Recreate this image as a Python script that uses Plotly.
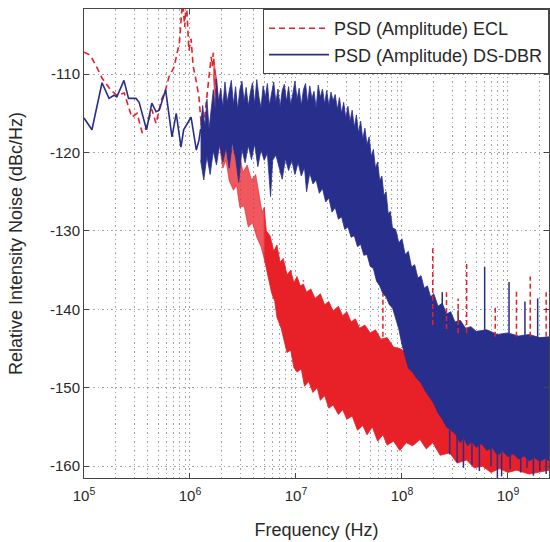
import plotly.graph_objects as go

# ---------------- data (frequency given as log10(Hz), level in dBc/Hz) ----------------
# ECL (red, dashed) - low-frequency trace
ecl_line_logf = [5.00, 5.06, 5.12, 5.17, 5.25, 5.31, 5.38, 5.45, 5.50, 5.55, 5.59, 5.64, 5.68, 5.73,
                 5.77, 5.80, 5.85, 5.90, 5.93, 5.95, 5.965, 5.99, 6.01, 6.03, 6.06, 6.085, 6.10,
                 6.12, 6.15, 6.18, 6.20, 6.21, 6.22, 6.24, 6.26]
ecl_line_db = [-107.2, -107.6, -109.1, -110.5, -112.0, -112.7, -112.4, -115.5, -115.0, -117.5, -116.8,
               -114.5, -116.3, -113.3, -112.0, -110.4, -109.1, -106.0, -100.5, -104.0, -100.5, -107.0,
               -105.5, -109.0, -111.0, -113.0, -115.5, -118.0, -114.0, -110.0, -107.8, -109.0, -107.3,
               -111.0, -116.0]

# ECL noise band (upper / lower envelope)
ecl_up_logf = [6.22, 6.25, 6.27, 6.29, 6.31, 6.33, 6.36, 6.39, 6.41, 6.44, 6.47, 6.50, 6.54, 6.58,
               6.62, 6.65, 6.68, 6.70, 6.72, 6.755, 6.79, 6.82, 6.85, 6.88, 6.915, 6.95, 6.98, 7.01,
               7.04, 7.07, 7.10, 7.14, 7.18, 7.23, 7.27, 7.31, 7.35, 7.40, 7.44, 7.48, 7.52, 7.56,
               7.60, 7.65, 7.70, 7.75, 7.80, 7.86, 7.92, 7.98, 8.05, 8.12, 8.17, 8.25, 8.35, 8.50,
               8.70, 8.90, 9.10, 9.39]
ecl_up_db = [-108.0, -110.5, -114.0, -116.5, -115.0, -118.0, -117.2, -120.0, -119.0, -121.0, -120.4,
             -122.5, -121.6, -123.5, -122.8, -125.0, -127.6, -127.0, -130.0, -130.6, -132.6, -131.8,
             -134.0, -133.5, -135.6, -135.0, -136.6, -135.8, -137.0, -136.8, -137.8, -137.4, -138.6,
             -138.0, -139.4, -139.0, -140.2, -139.6, -140.8, -140.3, -141.6, -141.2, -142.4, -142.0,
             -143.0, -142.6, -143.8, -143.6, -144.8, -145.0, -145.6, -146.2, -146.6, -149.0, -152.0,
             -154.5, -155.5, -156.5, -157.0, -157.5]
ecl_lo_logf = [6.22, 6.25, 6.28, 6.31, 6.34, 6.37, 6.41, 6.44, 6.47, 6.51, 6.55, 6.59, 6.63, 6.67,
               6.70, 6.72, 6.75, 6.77, 6.80, 6.82, 6.86, 6.89, 6.915, 6.95, 6.98, 7.01, 7.05, 7.08,
               7.12, 7.16, 7.20, 7.23, 7.27, 7.31, 7.35, 7.40, 7.44, 7.48, 7.53, 7.58, 7.63, 7.67,
               7.72, 7.77, 7.82, 7.86, 7.92, 7.98, 8.04, 8.10, 8.17, 8.23, 8.29, 8.36, 8.45, 8.52,
               8.61, 8.68, 8.76, 8.84, 8.92, 9.00, 9.08, 9.20, 9.39]
ecl_lo_db = [-110.0, -116.7, -119.5, -122.0, -121.0, -123.6, -124.8, -124.2, -127.0, -126.8, -129.5,
             -129.0, -130.8, -132.0, -133.5, -134.6, -136.5, -137.9, -139.0, -141.0, -142.4, -144.2,
             -145.5, -145.2, -147.4, -148.0, -147.6, -149.8, -149.2, -150.6, -150.0, -151.6, -151.0,
             -152.6, -152.2, -153.4, -152.8, -154.0, -153.6, -155.4, -154.8, -156.0, -155.0, -156.8,
             -156.0, -157.3, -156.8, -158.0, -157.0, -157.4, -156.6, -157.8, -157.0, -158.6, -158.3,
             -159.6, -159.2, -160.2, -160.0, -160.8, -160.3, -160.8, -160.5, -161.0, -160.5]
ecl_sparse_end_logf = 6.70   # below this the ECL band is only sparsely covered

# ECL spurs (dashed spikes)
ecl_spur_logf = [7.07, 7.82, 8.29, 8.42, 8.53, 8.61, 8.88, 9.08, 9.21, 9.36]
ecl_spur_top = [-136.3, -138.0, -132.2, -137.8, -138.6, -134.1, -139.7, -137.5, -135.8, -137.8]
ecl_spur_base = [-139.5, -143.5, -142.0, -142.5, -143.0, -143.0, -143.5, -143.5, -143.5, -143.5]

# DS-DBR (blue, solid) - low-frequency trace
dbr_line_logf = [5.00, 5.075, 5.17, 5.236, 5.283, 5.31, 5.377, 5.42, 5.49, 5.52, 5.59, 5.64, 5.68,
                 5.71, 5.77, 5.83, 5.87, 5.915, 5.94, 6.01, 6.06, 6.085, 6.10]
dbr_line_db = [-115.6, -117.1, -111.1, -113.1, -112.7, -112.9, -110.8, -113.1, -113.1, -113.6, -117.1,
               -113.7, -114.8, -114.6, -112.0, -118.0, -115.0, -119.3, -117.1, -115.5, -119.7, -118.4,
               -117.0]

# DS-DBR noise band (upper / lower envelope)
dbr_up_logf = [6.10, 6.12, 6.14, 6.16, 6.18, 6.20, 6.22, 6.24, 6.25, 6.27, 6.29, 6.31, 6.33, 6.35,
               6.37, 6.39, 6.41, 6.43, 6.45, 6.47, 6.49, 6.51, 6.53, 6.55, 6.57, 6.59, 6.61, 6.63,
               6.65, 6.67, 6.69, 6.71, 6.73, 6.75, 6.77, 6.79, 6.81, 6.83, 6.85, 6.87, 6.89, 6.91,
               6.93, 6.95, 6.97, 6.99, 7.01, 7.03, 7.05, 7.07, 7.09, 7.11, 7.13, 7.15, 7.17, 7.19,
               7.21, 7.23, 7.25, 7.27, 7.29, 7.31, 7.33, 7.35, 7.37, 7.39, 7.41, 7.43, 7.45, 7.47,
               7.49, 7.51, 7.53, 7.55, 7.57, 7.59, 7.61, 7.63, 7.65, 7.67, 7.69, 7.71, 7.73, 7.75,
               7.77, 7.79, 7.81, 7.83, 7.85, 7.87, 7.89, 7.91, 7.94, 7.97, 8.00, 8.03, 8.06, 8.09,
               8.12, 8.15, 8.18, 8.21, 8.24, 8.27, 8.30, 8.34, 8.38, 8.42, 8.46, 8.50, 8.55, 8.60,
               8.65, 8.70, 8.80, 8.90, 9.00, 9.10, 9.20, 9.30, 9.39]
dbr_up_db = [-116.5, -114.0, -116.8, -113.2, -117.0, -114.5, -112.0, -114.8, -110.6, -113.5, -111.8,
             -114.2, -111.0, -113.6, -112.4, -110.8, -113.9, -111.6, -114.5, -112.0, -110.9, -113.4,
             -111.7, -114.1, -112.3, -111.1, -113.8, -110.7, -112.9, -114.3, -111.5, -113.0, -111.2,
             -114.0, -112.4, -111.0, -113.6, -111.9, -114.2, -112.1, -111.3, -113.5, -111.6, -113.9,
             -112.5, -110.9, -113.2, -111.8, -114.0, -112.0, -111.2, -113.7, -111.5, -113.1, -112.2,
             -114.3, -111.4, -113.0, -111.9, -113.8, -112.1, -114.0, -112.3, -113.4, -112.6, -114.5,
             -113.0, -115.0, -113.6, -115.6, -114.1, -116.0, -114.6, -116.8, -115.2, -117.5, -116.0,
             -118.3, -116.9, -119.0, -118.0, -120.5, -119.6, -122.0, -121.2, -123.6, -123.0, -125.5,
             -125.0, -127.8, -127.5, -129.6, -129.8, -131.5, -131.0, -133.0, -132.6, -134.6, -134.3,
             -136.0, -135.7, -137.3, -137.0, -138.4, -138.0, -139.6, -139.2, -140.6, -140.3, -141.6,
             -141.4, -142.4, -142.2, -142.8, -142.6, -143.2, -143.0, -143.4, -143.2, -143.6, -143.5]
dbr_lo_logf = [6.10, 6.13, 6.16, 6.19, 6.22, 6.25, 6.28, 6.31, 6.34, 6.37, 6.40, 6.43, 6.46, 6.49,
               6.52, 6.55, 6.58, 6.61, 6.64, 6.67, 6.70, 6.73, 6.76, 6.78, 6.81, 6.84, 6.87, 6.90,
               6.93, 6.96, 6.99, 7.02, 7.05, 7.08, 7.10, 7.13, 7.16, 7.19, 7.22, 7.25, 7.28, 7.31,
               7.34, 7.37, 7.40, 7.43, 7.46, 7.49, 7.52, 7.55, 7.58, 7.61, 7.64, 7.67, 7.70, 7.73,
               7.76, 7.79, 7.82, 7.85, 7.88, 7.91, 7.94, 7.97, 8.00, 8.03, 8.06, 8.10, 8.14, 8.18,
               8.22, 8.26, 8.30, 8.34, 8.38, 8.42, 8.46, 8.50, 8.55, 8.58, 8.62, 8.66, 8.70, 8.75,
               8.80, 8.85, 8.90, 8.95, 9.00, 9.05, 9.10, 9.15, 9.20, 9.25, 9.30, 9.35, 9.39]
dbr_lo_db = [-121.0, -123.5, -120.5, -122.8, -119.8, -121.6, -118.9, -121.2, -119.4, -122.0, -118.8,
             -120.7, -123.8, -119.6, -121.3, -119.1, -120.9, -118.9, -121.8, -119.7, -121.0, -120.1,
             -125.6, -121.0, -120.3, -122.0, -123.4, -120.8, -122.3, -121.0, -122.8, -121.3, -123.0,
             -121.9, -125.0, -122.6, -124.0, -123.5, -125.2, -124.6, -126.3, -125.8, -127.6, -127.0,
             -128.5, -128.2, -129.8, -129.5, -130.8, -130.6, -132.0, -131.7, -133.1, -133.0, -134.5,
             -134.8, -136.4, -137.0, -138.0, -138.4, -139.4, -139.8, -141.2, -142.5, -144.5, -146.0,
             -147.5, -148.0, -148.8, -149.4, -150.4, -151.2, -152.0, -153.2, -154.0, -155.0, -155.4,
             -155.8, -157.0, -156.3, -157.4, -156.8, -157.6, -157.1, -158.0, -157.6, -158.6, -158.1,
             -158.8, -158.4, -159.1, -158.7, -159.3, -158.9, -159.4, -159.0, -159.3]

# DS-DBR spurs: upward (top) and downward (bottom) spikes
dbr_spur_logf = [8.38, 8.53, 8.78, 9.01, 9.16, 9.28]
dbr_spur_top = [-137.8, -140.1, -134.6, -136.5, -139.0, -138.6]
dbr_spur_base = [-140.5, -141.5, -142.7, -143.0, -143.3, -143.5]
dbr_dip_logf = [8.45, 8.52, 8.58, 8.66, 8.73, 8.84, 8.90, 8.94, 9.02, 9.12, 9.18, 9.24, 9.30, 9.36]
dbr_dip_bottom = [-158.5, -159.5, -160.2, -159.8, -160.6, -160.0, -161.5, -161.3, -160.4, -160.8,
                  -160.2, -161.2, -160.6, -161.0]
dbr_dip_base = [-155.4, -156.0, -156.5, -156.8, -157.3, -157.6, -158.0, -158.2, -158.6, -158.8,
                -159.0, -159.0, -159.2, -159.1]

# axes
x_tick_exp = [5, 6, 7, 8, 9]
y_tick_vals = [-160, -150, -140, -130, -120, -110]

RED = "rgb(232,32,40)"
RED_SPARSE = "rgba(232,32,40,0.75)"
BLUE = "rgb(40,46,140)"


def hz(v):
    return [10 ** e for e in v]


def polygon(up_x, up_y, lo_x, lo_y):
    return hz(up_x) + hz(lo_x[::-1]), up_y + lo_y[::-1]


def band_part(xs, ys, lo, hi):
    px = [x for x in xs if lo <= x <= hi]
    py = [y for x, y in zip(xs, ys) if lo <= x <= hi]
    return px, py


def segments(xs, y0s, y1s):
    px, py = [], []
    for x, a, b in zip(xs, y0s, y1s):
        px += [10 ** x, 10 ** x, None]
        py += [a, b, None]
    return px, py


fig = go.Figure()

# ECL band: sparse part, then dense part
for lo, hi, col in [(0, ecl_sparse_end_logf, RED_SPARSE), (ecl_sparse_end_logf, 99, RED)]:
    ux, uy = band_part(ecl_up_logf, ecl_up_db, lo, hi)
    lx, ly = band_part(ecl_lo_logf, ecl_lo_db, lo, hi)
    px, py = polygon(ux, uy, lx, ly)
    fig.add_trace(go.Scatter(x=px, y=py, fill="toself", fillcolor=col, mode="lines",
                             line=dict(color=col, width=0.8), showlegend=False, hoverinfo="skip"))
fig.add_trace(go.Scatter(x=hz(ecl_line_logf), y=ecl_line_db, mode="lines",
                         line=dict(color=RED, width=1.6, dash="6px,4px"),
                         name="PSD (Amplitude) ECL"))

# DS-DBR
px, py = polygon(dbr_up_logf, dbr_up_db, dbr_lo_logf, dbr_lo_db)
fig.add_trace(go.Scatter(x=px, y=py, fill="toself", fillcolor=BLUE, mode="lines",
                         line=dict(color=BLUE, width=0.8), showlegend=False, hoverinfo="skip"))
sx, sy = segments(dbr_spur_logf, dbr_spur_base, dbr_spur_top)
fig.add_trace(go.Scatter(x=sx, y=sy, mode="lines", line=dict(color=BLUE, width=1.5),
                         showlegend=False, hoverinfo="skip"))
sx, sy = segments(dbr_dip_logf, dbr_dip_base, dbr_dip_bottom)
fig.add_trace(go.Scatter(x=sx, y=sy, mode="lines", line=dict(color=BLUE, width=1.5),
                         showlegend=False, hoverinfo="skip"))
fig.add_trace(go.Scatter(x=hz(dbr_line_logf), y=dbr_line_db, mode="lines",
                         line=dict(color=BLUE, width=1.6),
                         name="PSD (Amplitude) DS-DBR"))

# ECL spurs on top
sx, sy = segments(ecl_spur_logf, ecl_spur_base, ecl_spur_top)
fig.add_trace(go.Scatter(x=sx, y=sy, mode="lines", line=dict(color=RED, width=1.5, dash="5px,3px"),
                         showlegend=False, hoverinfo="skip"))

GRID = "rgb(165,165,165)"
AX = "rgb(70,70,70)"
fig.update_layout(
    width=550, height=542,
    margin=dict(l=84, r=1, t=9, b=64),
    paper_bgcolor="white", plot_bgcolor="white",
    font=dict(family="Liberation Sans, Arial, sans-serif", size=15, color="rgb(40,40,40)"),
    showlegend=True,
    legend=dict(x=1, xanchor="right", y=1, yanchor="top", bgcolor="white",
                bordercolor=AX, borderwidth=1, font=dict(size=18),
                itemwidth=60, tracegroupgap=0),
    xaxis=dict(type="log", range=[5, 9.387], automargin=False,
               tickvals=[10 ** e for e in x_tick_exp],
               ticktext=[f"10<sup>{e}</sup>" for e in x_tick_exp],
               ticks="inside", ticklen=5, tickcolor=AX, ticklabelstandoff=4,
               showline=True, linecolor=AX, linewidth=1, mirror="ticks",
               showgrid=True, gridcolor=GRID, griddash="1.5px,3px", gridwidth=1,
               minor=dict(dtick="D1", showgrid=True, gridcolor=GRID, griddash="1.5px,3px", ticks=""),
               zeroline=False,
               title=dict(text="Frequency (Hz)", standoff=20)),
    yaxis=dict(range=[-161.5, -101.7], automargin=False,
               tickvals=y_tick_vals, ticktext=[str(v) for v in y_tick_vals],
               ticks="inside", ticklen=5, tickcolor=AX,
               showline=True, linecolor=AX, linewidth=1, mirror="ticks",
               showgrid=True, gridcolor=GRID, griddash="1.5px,3px", gridwidth=1,
               zeroline=False,
               title=dict(text="Relative Intensity Noise (dBc/Hz)", standoff=22)),
)

fig.write_html("out.html", config={"displayModeBar": False},
               post_script="document.body.style.margin='0';")
